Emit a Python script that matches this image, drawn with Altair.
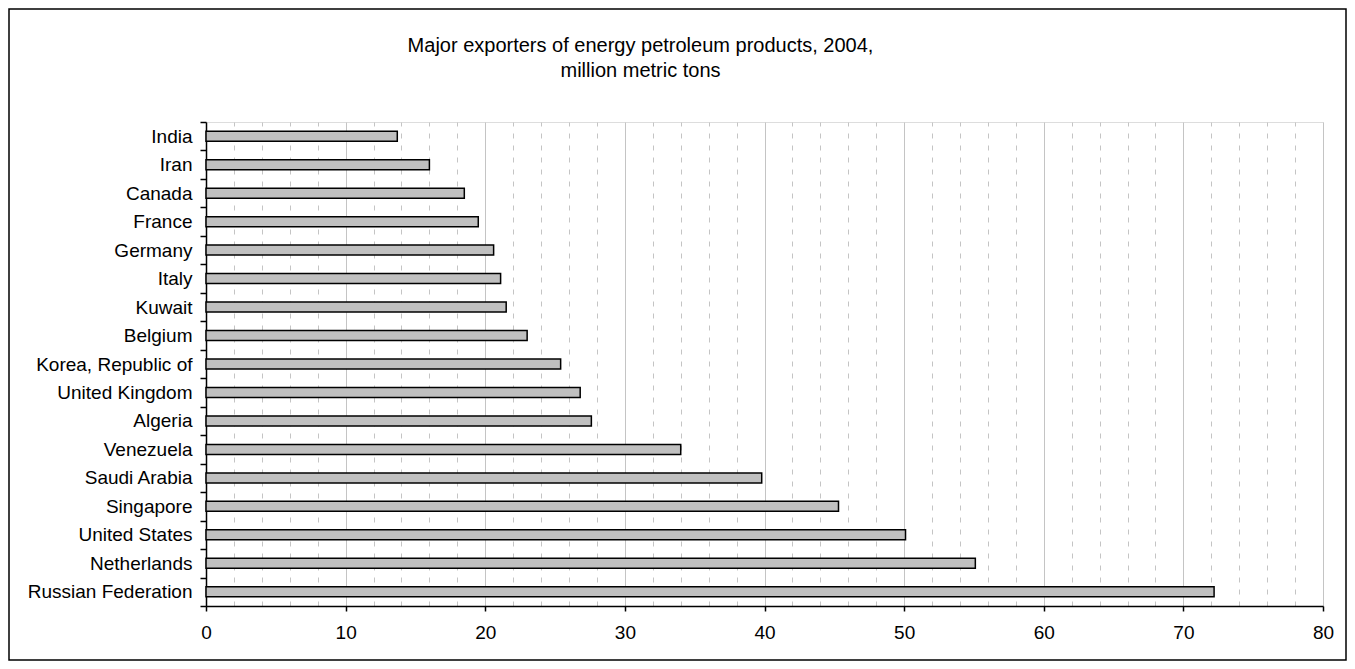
import altair as alt
import pandas as pd

countries = [
    "India", "Iran", "Canada", "France", "Germany", "Italy", "Kuwait",
    "Belgium", "Korea, Republic of", "United Kingdom", "Algeria",
    "Venezuela", "Saudi Arabia", "Singapore", "United States",
    "Netherlands", "Russian Federation",
]
exports = [13.7, 16.0, 18.5, 19.5, 20.6, 21.1, 21.5, 23.0, 25.4, 26.8,
           27.6, 34.0, 39.8, 45.3, 50.1, 55.1, 72.2]
x_tick_values = list(range(0, 82, 2))
title_lines = ["Major exporters of energy petroleum products, 2004,",
               "million metric tons"]

df = pd.DataFrame({"country": countries, "exports": exports})

W, H = 1117, 484
PAD_L, PAD_T, PAD_R, PAD_B = 198, 114, 24, 55
FONT = "Liberation Sans"

major = "datum.value % 10 === 0"

bars = alt.Chart(df).mark_bar(
    size=10, color="#C0C0C0", stroke="black", strokeWidth=1.5
).encode(
    x=alt.X(
        "exports:Q",
        scale=alt.Scale(domain=[0, 80], nice=False),
        axis=alt.Axis(
            values=x_tick_values,
            title=None,
            grid=True,
            gridColor="#C4C4C4",
            gridWidth=1,
            gridDash=alt.condition(major, alt.value([]), alt.value([5, 7])),
            tickOpacity=alt.condition(major, alt.value(1), alt.value(0)),
            labelExpr="datum.value % 10 === 0 ? datum.label : ''",
            labelOverlap=False,
            labelFlush=False,
            tickSize=5,
            tickColor="black",
            tickWidth=1.5,
            domainColor="black",
            domainWidth=1.5,
            labelPadding=12,
            labelFontSize=19,
            labelFont=FONT,
            labelColor="black",
        ),
    ),
    y=alt.Y(
        "country:N",
        sort=countries,
        scale=alt.Scale(paddingInner=0, paddingOuter=0),
        axis=alt.Axis(
            title=None,
            grid=False,
            tickBand="extent",
            tickSize=6,
            tickColor="black",
            tickWidth=1.5,
            domainColor="black",
            domainWidth=1.5,
            labelPadding=8,
            labelFontSize=19,
            labelFont=FONT,
            labelColor="black",
        ),
    ),
)

frame = alt.Chart(pd.DataFrame({"a": [0]})).mark_rect(
    filled=False, stroke="black", strokeWidth=1.5, clip=False
).encode(
    x=alt.value(-PAD_L + 1),
    x2=alt.value(W + PAD_R - 1),
    y=alt.value(-PAD_T + 1),
    y2=alt.value(H + PAD_B - 1),
)

chart = alt.layer(frame, bars).properties(
    width=W,
    height=H,
    autosize=alt.AutoSizeParams(type="none"),
    padding={"left": PAD_L, "top": PAD_T, "right": PAD_R, "bottom": PAD_B},
    title=alt.TitleParams(
        text=title_lines,
        fontSize=20,
        font=FONT,
        fontWeight="normal",
        color="black",
        anchor="middle",
        offset=-73,
        lineHeight=25,
        dx=-124,
    ),
).configure_view(
    stroke="#808080", strokeWidth=1.5
).configure(background="white")

chart.save("out.html", embed_options={"renderer": "svg", "actions": False})
